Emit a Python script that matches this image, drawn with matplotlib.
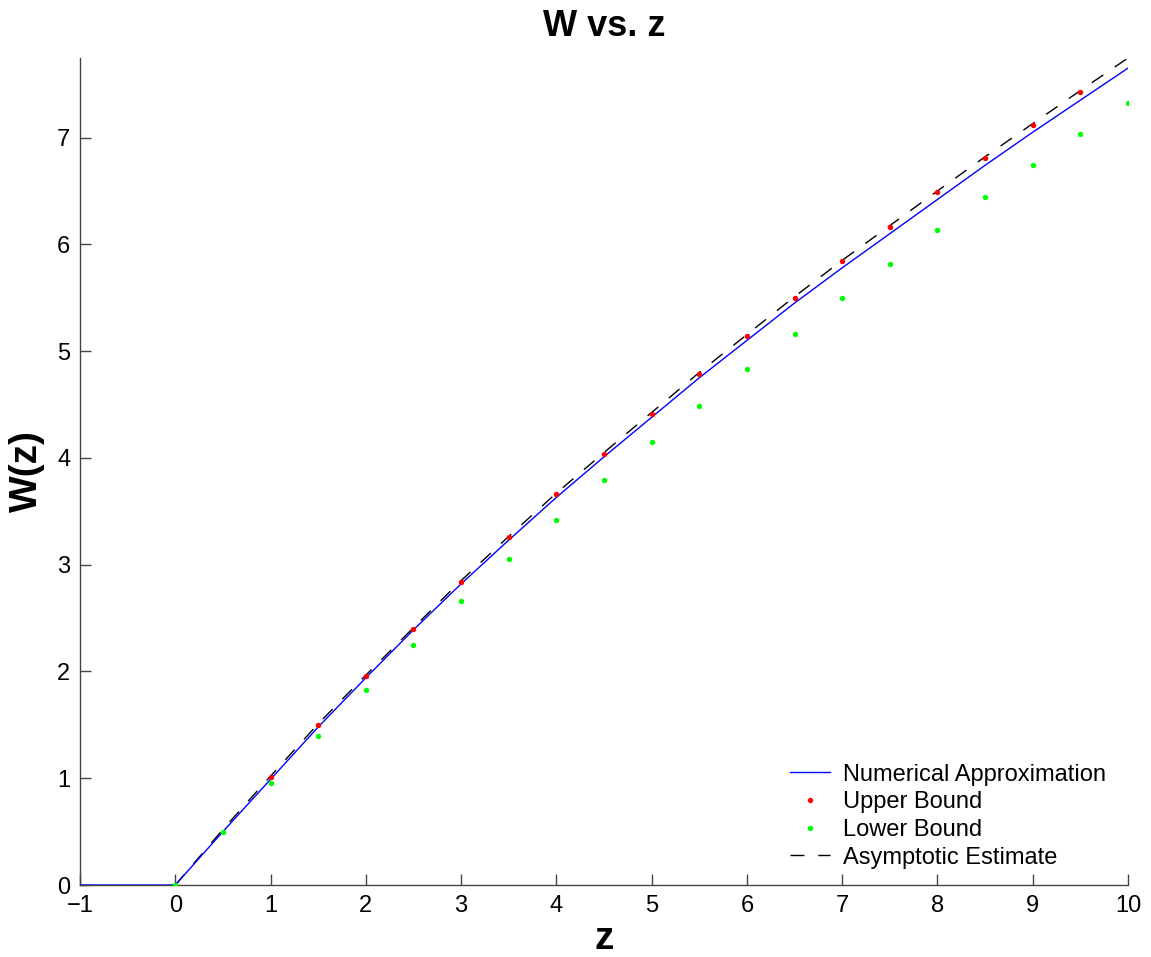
import matplotlib
matplotlib.use('Agg')
import matplotlib.pyplot as plt

plt.rcParams.update({'font.family': ['Liberation Sans', 'DejaVu Sans']})

# numerical approximation of W(z)
z_num = [-1, 0, 0.5, 1, 1.5, 2, 2.5, 3, 3.5, 4, 4.5, 5, 5.5, 6, 6.5, 7, 7.5, 8, 8.5, 9, 9.5, 10]
w_num = [0, 0, 0.50, 0.99, 1.48, 1.94, 2.39, 2.82, 3.23, 3.63, 4.01, 4.38, 4.75, 5.10,
         5.45, 5.78, 6.10, 6.42, 6.74, 7.05, 7.35, 7.65]

# bounds
z_up = [1, 1.5, 2, 2.5, 3, 3.5, 4, 4.5, 5, 5.5, 6, 6.5, 7, 7.5, 8, 8.5, 9, 9.5]
w_up = [1.01, 1.50, 1.955, 2.40, 2.84, 3.255, 3.66, 4.04, 4.415, 4.79, 5.145, 5.50,
        5.84, 6.165, 6.49, 6.81, 7.12, 7.43]
z_lo = [0, 0.5, 1, 1.5, 2, 2.5, 3, 3.5, 4, 4.5, 5, 5.5, 6, 6.5, 7, 7.5, 8, 8.5, 9, 9.5, 10]
w_lo = [0, 0.496, 0.954, 1.40, 1.83, 2.25, 2.66, 3.05, 3.42, 3.79, 4.15, 4.49, 4.83,
        5.16, 5.50, 5.82, 6.13, 6.44, 6.74, 7.03, 7.32]

# asymptotic estimate
z_as = [0, 0.5, 1, 1.5, 2, 2.5, 3, 3.5, 4, 4.5, 5, 5.5, 6, 6.5, 7, 7.5, 8, 8.5, 9, 9.5, 10]
w_as = [0, 0.52, 1.02, 1.51, 1.965, 2.41, 2.85, 3.265, 3.67, 4.05, 4.425, 4.80, 5.155,
        5.51, 5.85, 6.175, 6.50, 6.82, 7.13, 7.44, 7.745]

fig = plt.figure(figsize=(11.51, 9.57), dpi=100)
ax = fig.add_axes([0.0695, 0.0752, 0.9105, 0.8642])

ax.plot(z_num, w_num, color='#0000FF', lw=1.0, label='Numerical Approximation', zorder=3)
ax.plot(z_up, w_up, 'o', color='#FF0000', ms=3.9, mew=0, label='Upper Bound', zorder=4)
ax.plot(z_lo, w_lo, 'o', color='#00FF00', ms=3.9, mew=0, label='Lower Bound', zorder=5)
ax.plot(z_as, w_as, color='black', lw=1.0, linestyle=(0, (10, 10)),
        label='Asymptotic Estimate', zorder=2)

ax.set_xlim(-1, 10)
ax.set_ylim(0, 7.745)
ax.set_xticks(range(-1, 11))
ax.set_yticks(range(0, 8))

for s in ['top', 'right']:
    ax.spines[s].set_visible(False)
for s in ['left', 'bottom']:
    ax.spines[s].set_color('#444444')
    ax.spines[s].set_linewidth(1.0)
ax.tick_params(direction='in', length=8, width=1.0, color='#444444',
               labelsize=17, pad=7)

ax.set_title('W vs. z', fontsize=26, fontweight='bold', pad=16)
ax.set_xlabel('z', fontsize=28, fontweight='bold', labelpad=3)
ax.set_ylabel('W(z)', fontsize=28, fontweight='bold', labelpad=9)

ax.legend(loc='lower right', frameon=False, fontsize=17, handlelength=1.7,
          handletextpad=0.55, labelspacing=0.24, borderaxespad=0.3,
          bbox_to_anchor=(0.995, 0.0))

fig.savefig('out.png', dpi=100, facecolor='white')
